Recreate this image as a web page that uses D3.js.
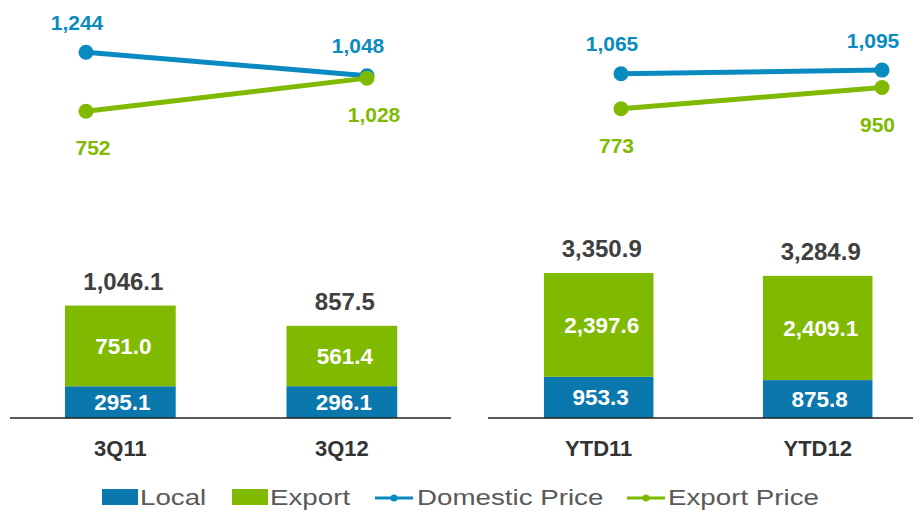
<!DOCTYPE html>
<html>
<head>
<meta charset="utf-8">
<script src="https://cdn.jsdelivr.net/npm/d3@7"></script>
<style>
  html, body { margin: 0; padding: 0; background: #fff; }
  svg { display: block; font-family: "Liberation Sans", Arial, sans-serif; }
</style>
</head>
<body>
<svg id="chart" width="913" height="511"></svg>
<script>
// ---- data ----
const categoriesQuarter = ["3Q11", "3Q12"];
const categoriesYTD = ["YTD11", "YTD12"];
const localQuarter = [295.1, 296.1];
const exportQuarter = [751.0, 561.4];
const localYTD = [953.3, 875.8];
const exportYTD = [2397.6, 2409.1];
const domesticPriceQuarter = [1244, 1048];
const exportPriceQuarter = [752, 1028];
const domesticPriceYTD = [1065, 1095];
const exportPriceYTD = [773, 950];
const legendLabels = ["Local", "Export", "Domestic Price", "Export Price"];

// ---- styles ----
const BLUE = "#0a78ad";
const GREEN = "#7fba00";
const LINE_BLUE = "#0a8bc0";
const LINE_GREEN = "#7fba00";
const fmt1 = d3.format(",.1f");
const fmt0 = d3.format(",.0f");

const svg = d3.select("#chart");
const baseY = 418;

const priceY = d3.scaleLinear().domain([0, 1400]).range([201.5, 33.5]);

const panels = [
  {
    cats: categoriesQuarter, local: localQuarter, exp: exportQuarter,
    dom: domesticPriceQuarter, expP: exportPriceQuarter,
    xRange: [9.6, 452.6], yMax: 1200, yTop: 418 - 129,
    axis: [10, 451], lineX: [86, 367], expDx: 7
  },
  {
    cats: categoriesYTD, local: localYTD, exp: exportYTD,
    dom: domesticPriceYTD, expP: exportPriceYTD,
    xRange: [489.2, 927.2], yMax: 4000, yTop: 418 - 173.1,
    axis: [488, 913], lineX: [621, 882], expDx: -4.5
  }
];

panels.forEach(p => {
  const x = d3.scaleBand().domain(p.cats).range(p.xRange).paddingInner(0.5).paddingOuter(0.25);
  const y = d3.scaleLinear().domain([0, p.yMax]).range([baseY, p.yTop]);
  const rows = p.cats.map((c, i) => ({ cat: c, local: p.local[i], exp: p.exp[i], total: p.local[i] + p.exp[i] }));
  const g = svg.append("g");

  // bars
  g.selectAll("rect.local").data(rows).join("rect")
    .attr("x", d => x(d.cat)).attr("width", x.bandwidth())
    .attr("y", d => y(d.local)).attr("height", d => y(0) - y(d.local))
    .attr("fill", BLUE);
  g.selectAll("rect.exp").data(rows).join("rect")
    .attr("x", d => x(d.cat)).attr("width", x.bandwidth())
    .attr("y", d => y(d.total)).attr("height", d => y(d.local) - y(d.total))
    .attr("fill", GREEN);

  // axis baseline
  g.append("line").attr("x1", p.axis[0]).attr("x2", p.axis[1])
    .attr("y1", baseY).attr("y2", baseY).attr("stroke", "#222").attr("stroke-width", 1.5);

  // segment labels
  g.selectAll("text.loc").data(rows).join("text")
    .attr("x", d => x(d.cat) + x.bandwidth() / 2 + 2)
    .attr("y", d => (y(0) + y(d.local)) / 2 + 8)
    .attr("text-anchor", "middle").attr("fill", "#fff")
    .attr("font-size", 22.5).attr("font-weight", "bold")
    .text(d => fmt1(d.local));
  g.selectAll("text.ex").data(rows).join("text")
    .attr("x", d => x(d.cat) + x.bandwidth() / 2 + 3)
    .attr("y", d => (y(d.local) + y(d.total)) / 2 + 8)
    .attr("text-anchor", "middle").attr("fill", "#fff")
    .attr("font-size", 22.5).attr("font-weight", "bold")
    .text(d => fmt1(d.exp));
  // totals
  g.selectAll("text.tot").data(rows).join("text")
    .attr("x", d => x(d.cat) + x.bandwidth() / 2 + 3)
    .attr("y", d => y(d.total) - 16)
    .attr("text-anchor", "middle").attr("fill", "#404040")
    .attr("font-size", 24).attr("font-weight", "bold")
    .text(d => fmt1(d.total));
  // categories
  g.selectAll("text.cat").data(rows).join("text")
    .attr("x", d => x(d.cat) + x.bandwidth() / 2)
    .attr("y", 456)
    .attr("text-anchor", "middle").attr("fill", "#333")
    .attr("font-size", 22).attr("font-weight", "bold")
    .text(d => d.cat);

  // price lines
  const px = d3.scalePoint().domain(p.cats).range(p.lineX);
  const series = [
    { vals: p.dom, color: LINE_BLUE, dy: -30 + 7.5, dx: -9 },
    { vals: p.expP, color: LINE_GREEN, dy: 36.5 + 7.5, dx: p.expDx }
  ];
  const line = d3.line().x(d => px(d.cat)).y(d => priceY(d.v));
  series.forEach(s => {
    const pts = p.cats.map((c, i) => ({ cat: c, v: s.vals[i] }));
    g.append("path").datum(pts).attr("d", line)
      .attr("fill", "none").attr("stroke", s.color).attr("stroke-width", 5);
    g.selectAll(null).data(pts).join("circle")
      .attr("cx", d => px(d.cat)).attr("cy", d => priceY(d.v)).attr("r", 7.5)
      .attr("fill", s.color);
  });
  series.forEach(s => {
    const pts = p.cats.map((c, i) => ({ cat: c, v: s.vals[i] }));
    g.selectAll(null).data(pts).join("text")
      .attr("x", d => px(d.cat) + s.dx).attr("y", d => priceY(d.v) + s.dy)
      .attr("text-anchor", "middle").attr("fill", s.color)
      .attr("font-size", 21).attr("font-weight", "bold")
      .text(d => fmt0(d.v));
  });
});

// ---- legend ----
const legend = svg.append("g");
const legendItems = [
  { label: legendLabels[0], type: "rect", color: BLUE, x0: 102, tx: 140 },
  { label: legendLabels[1], type: "rect", color: GREEN, x0: 232, tx: 270 },
  { label: legendLabels[2], type: "line", color: LINE_BLUE, x0: 375, tx: 417 },
  { label: legendLabels[3], type: "line", color: LINE_GREEN, x0: 627, tx: 668 }
];
legendItems.forEach(it => {
  if (it.type === "rect") {
    legend.append("rect").attr("x", it.x0).attr("y", 489).attr("width", 36).attr("height", 16).attr("fill", it.color);
  } else {
    legend.append("line").attr("x1", it.x0).attr("x2", it.x0 + 38).attr("y1", 498).attr("y2", 498)
      .attr("stroke", it.color).attr("stroke-width", 3);
    legend.append("circle").attr("cx", it.x0 + 19).attr("cy", 498).attr("r", 3.5).attr("fill", it.color);
  }
  legend.append("text")
    .attr("transform", `translate(${it.tx},505) scale(1.26,1)`)
    .attr("font-size", 22).attr("fill", "#595959")
    .text(it.label);
});
</script>
</body>
</html>
